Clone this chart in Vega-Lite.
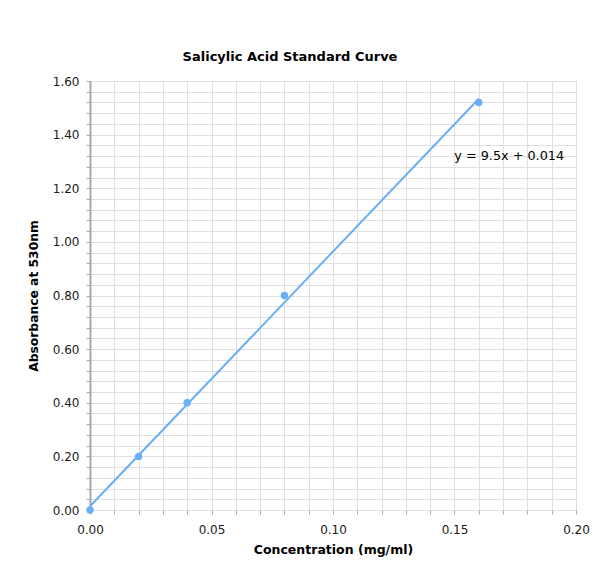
{
  "$schema": "https://vega.github.io/schema/vega-lite/v6.json",
  "width": 486,
  "height": 429,
  "autosize": {"type": "none"},
  "padding": {"left": 90, "top": 81, "right": 18, "bottom": 61},
  "background": "white",
  "config": {
    "view": {"stroke": "#bdbdbd", "strokeWidth": 1},
    "font": "DejaVu Sans"
  },
  "title": {
    "text": "Salicylic Acid Standard Curve",
    "font": "DejaVu Sans",
    "fontSize": 13,
    "fontWeight": "bold",
    "color": "#000000",
    "offset": 11,
    "dx": -43,
    "anchor": "middle"
  },
  "datasets": {
    "points": [
      {"conc": 0.0, "abs": 0.0},
      {"conc": 0.02, "abs": 0.2},
      {"conc": 0.04, "abs": 0.4},
      {"conc": 0.08, "abs": 0.8},
      {"conc": 0.16, "abs": 1.52}
    ],
    "trend": [
      {"conc": 0.0, "abs": 0.014},
      {"conc": 0.16, "abs": 1.534}
    ],
    "label": [
      {"conc": 0.1725, "abs": 1.32, "text": "y = 9.5x + 0.014"}
    ]
  },
  "layer": [
    {
      "data": {"name": "trend"},
      "mark": {"type": "line", "color": "#6aaef5", "strokeWidth": 2},
      "encoding": {
        "x": {
          "field": "conc",
          "type": "quantitative",
          "scale": {"domain": [0, 0.2], "nice": false},
          "axis": {
            "title": "Concentration (mg/ml)",
            "titleFont": "DejaVu Sans",
            "titleFontSize": 12.5,
            "titleFontWeight": "bold",
            "titleColor": "#000000",
            "titlePadding": 8,
            "values": [0, 0.01, 0.02, 0.03, 0.04, 0.05, 0.06, 0.07, 0.08, 0.09, 0.1, 0.11, 0.12, 0.13, 0.14, 0.15, 0.16, 0.17, 0.18, 0.19, 0.2],
            "tickCount": 100,
            "format": ".2f",
            "labelExpr": "abs(datum.value*20 - round(datum.value*20)) < 0.001 ? datum.label : ''",
            "labelFont": "DejaVu Sans",
            "labelFontSize": 12,
            "labelColor": "#1a1a1a",
            "labelPadding": 10,
            "labelFlush": false,
            "labelOverlap": false,
            "grid": true,
            "gridColor": "#e0e0e0",
            "gridWidth": 1,
            "domain": false,
            "tickColor": "#aaaaaa",
            "tickSize": 4
          }
        },
        "y": {
          "field": "abs",
          "type": "quantitative",
          "scale": {"domain": [0, 1.6], "nice": false},
          "axis": {
            "title": "Absorbance at 530nm",
            "titleFont": "DejaVu Sans",
            "titleFontSize": 12.3,
            "titleFontWeight": "bold",
            "titleColor": "#000000",
            "titlePadding": 12,
            "values": [0, 0.04, 0.08, 0.12, 0.16, 0.2, 0.24, 0.28, 0.32, 0.36, 0.4, 0.44, 0.48, 0.52, 0.56, 0.6, 0.64, 0.68, 0.72, 0.76, 0.8, 0.84, 0.88, 0.92, 0.96, 1.0, 1.04, 1.08, 1.12, 1.16, 1.2, 1.24, 1.28, 1.32, 1.36, 1.4, 1.44, 1.48, 1.52, 1.56, 1.6],
            "tickCount": 100,
            "format": ".2f",
            "labelExpr": "abs(datum.value*5 - round(datum.value*5)) < 0.001 ? datum.label : ''",
            "labelFont": "DejaVu Sans",
            "labelFontSize": 12,
            "labelColor": "#1a1a1a",
            "labelPadding": 7,
            "labelOverlap": false,
            "grid": true,
            "gridColor": "#e0e0e0",
            "gridWidth": 1,
            "domain": true,
            "domainColor": "#a8a8a8",
            "domainWidth": 2,
            "tickColor": "#aaaaaa",
            "tickSize": 4
          }
        }
      }
    },
    {
      "data": {"name": "points"},
      "mark": {"type": "point", "filled": true, "color": "#6aaef5", "size": 55, "opacity": 1},
      "encoding": {
        "x": {"field": "conc", "type": "quantitative"},
        "y": {"field": "abs", "type": "quantitative"}
      }
    },
    {
      "data": {"name": "label"},
      "mark": {"type": "text", "font": "DejaVu Sans", "fontSize": 12.8, "color": "#000000", "align": "center", "baseline": "middle"},
      "encoding": {
        "x": {"field": "conc", "type": "quantitative"},
        "y": {"field": "abs", "type": "quantitative"},
        "text": {"field": "text"}
      }
    }
  ]
}
